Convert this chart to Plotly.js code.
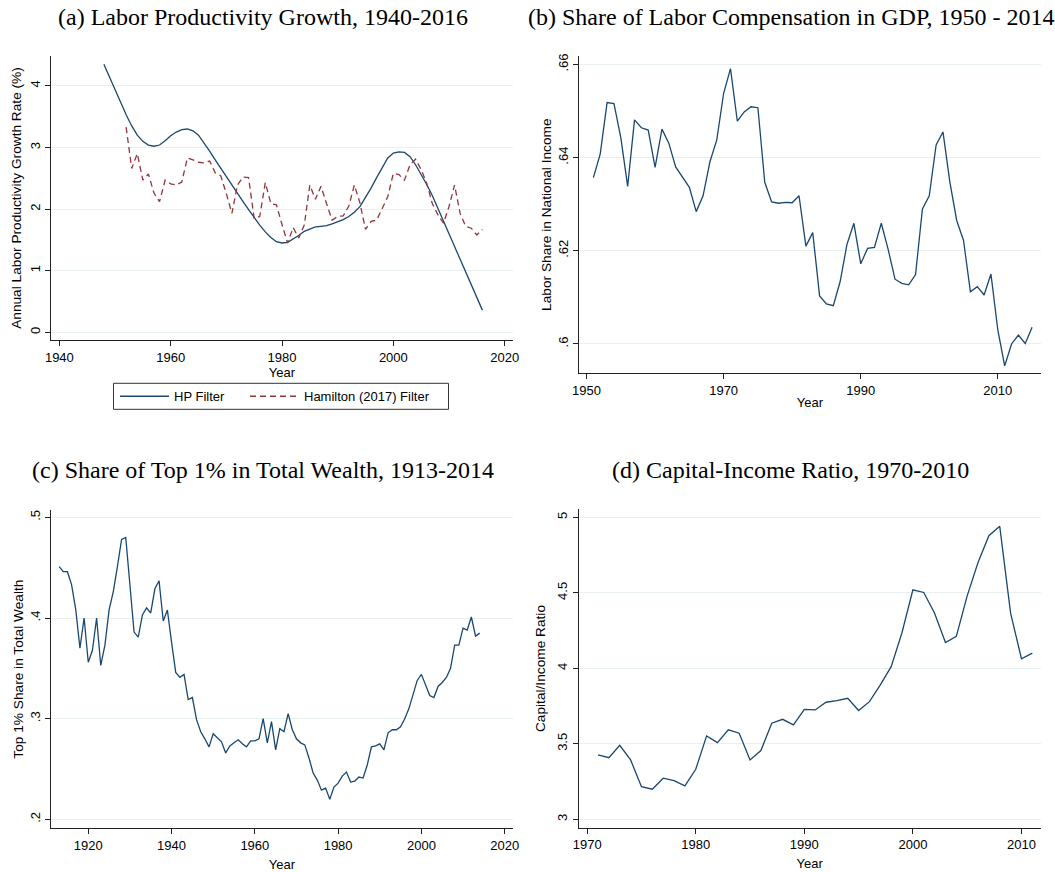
<!DOCTYPE html>
<html>
<head>
<meta charset="utf-8">
<script src="https://cdn.plot.ly/plotly-3.0.1.min.js"></script>
<style>html,body{margin:0;padding:0;background:#fff;}#chart{width:1055px;height:872px;}</style>
</head>
<body>
<div id="chart"></div>
<script>
// ---------- data ----------
function yearsFrom(start, n) { var a = []; for (var i = 0; i < n; i++) a.push(start + i); return a; }

// (a) Labor productivity growth
var hpYears = yearsFrom(1948, 69); // 1948-2016
var hpValues = [4.35, 4.14, 3.94, 3.73, 3.53, 3.35, 3.20, 3.10, 3.04, 3.02,
  3.04, 3.11, 3.19, 3.25, 3.29, 3.30, 3.27, 3.20, 3.08, 2.94,
  2.80, 2.66, 2.53, 2.39, 2.26, 2.12, 1.99, 1.86, 1.74, 1.63,
  1.54, 1.47, 1.45, 1.46, 1.51, 1.57, 1.64, 1.68, 1.71, 1.72,
  1.73, 1.76, 1.79, 1.83, 1.88, 1.95, 2.04, 2.18, 2.34, 2.51,
  2.68, 2.83, 2.91, 2.93, 2.92, 2.85, 2.72, 2.57, 2.40, 2.22,
  2.01, 1.80, 1.60, 1.40, 1.19, 0.98, 0.77, 0.56, 0.36];
var hamYears = yearsFrom(1952, 65); // 1952-2016
var hamValues = [3.33, 2.66, 2.90, 2.47, 2.57, 2.26, 2.12, 2.47, 2.41, 2.39,
  2.44, 2.83, 2.80, 2.76, 2.75, 2.78, 2.59, 2.54, 2.25, 1.93,
  2.39, 2.52, 2.51, 1.85, 1.88, 2.43, 2.09, 2.07, 1.75, 1.45,
  1.70, 1.53, 1.74, 2.39, 2.16, 2.37, 2.09, 1.82, 1.88, 1.89,
  2.05, 2.39, 2.10, 1.67, 1.80, 1.82, 2.01, 2.20, 2.58, 2.56,
  2.47, 2.72, 2.81, 2.64, 2.42, 2.09, 1.91, 1.77, 2.04, 2.39,
  1.93, 1.72, 1.69, 1.58, 1.67];

// (b) Labor share in national income
var laborYears = yearsFrom(1951, 65); // 1951-2015
var laborShare = [0.6357, 0.6408, 0.6518, 0.6516, 0.6443, 0.6338, 0.6481, 0.6464, 0.6459, 0.6379,
  0.6461, 0.6431, 0.6380, 0.6358, 0.6336, 0.6284, 0.6318, 0.6391, 0.6438, 0.6538,
  0.6591, 0.6478, 0.6498, 0.6509, 0.6507, 0.6347, 0.6305, 0.6302, 0.6304, 0.6303,
  0.6318, 0.6210, 0.6239, 0.6103, 0.6086, 0.6082, 0.6134, 0.6214, 0.6259, 0.6172,
  0.6205, 0.6207, 0.6259, 0.6203, 0.6139, 0.6130, 0.6127, 0.6149, 0.6290, 0.6318,
  0.6427, 0.6455, 0.6348, 0.6265, 0.6222, 0.6112, 0.6123, 0.6105, 0.6150, 0.6030,
  0.5953, 0.6000, 0.6019, 0.6001, 0.6036];

// (c) Top 1% share in total wealth
var wealthYears = yearsFrom(1913, 102); // 1913-2014
var top1Share = [0.451, 0.446, 0.446, 0.433, 0.408, 0.370, 0.400, 0.356, 0.368, 0.400,
  0.353, 0.373, 0.408, 0.426, 0.451, 0.478, 0.480, 0.434, 0.386, 0.381,
  0.403, 0.410, 0.405, 0.429, 0.437, 0.397, 0.408, 0.376, 0.346, 0.341,
  0.344, 0.319, 0.321, 0.299, 0.287, 0.280, 0.272, 0.285, 0.281, 0.277,
  0.266, 0.273, 0.276, 0.279, 0.275, 0.272, 0.278, 0.278, 0.280, 0.300,
  0.276, 0.297, 0.269, 0.290, 0.287, 0.305, 0.289, 0.280, 0.276, 0.274,
  0.261, 0.246, 0.239, 0.229, 0.231, 0.220, 0.232, 0.236, 0.243, 0.247,
  0.237, 0.238, 0.242, 0.241, 0.254, 0.272, 0.273, 0.275, 0.269, 0.286,
  0.289, 0.289, 0.292, 0.300, 0.310, 0.325, 0.338, 0.344, 0.333, 0.323,
  0.321, 0.332, 0.336, 0.341, 0.350, 0.373, 0.373, 0.390, 0.388, 0.401,
  0.382, 0.385];

// (d) Capital-income ratio
var capYears = yearsFrom(1971, 41); // 1971-2011
var capRatio = [3.426, 3.408, 3.490, 3.393, 3.216, 3.199, 3.272, 3.256, 3.221, 3.331,
  3.552, 3.508, 3.592, 3.570, 3.393, 3.455, 3.636, 3.662, 3.625, 3.728,
  3.724, 3.775, 3.786, 3.801, 3.720, 3.779, 3.890, 4.011, 4.237, 4.520,
  4.502, 4.365, 4.171, 4.211, 4.480, 4.701, 4.878, 4.940, 4.365, 4.063,
  4.100];

// tick labels
var tickA = [0, 1, 2, 3, 4], tickAText = ['0', '1', '2', '3', '4'];
var tickB = [0.60, 0.62, 0.64, 0.66], tickBText = ['.6', '.62', '.64', '.66'];
var tickC = [0.2, 0.3, 0.4, 0.5], tickCText = ['.2', '.3', '.4', '.5'];
var tickD = [3, 3.5, 4, 4.5, 5], tickDText = ['3', '3.5', '4', '4.5', '5'];

var panelTitles = ['(a) Labor Productivity Growth, 1940-2016',
  '(b) Share of Labor Compensation in GDP, 1950 - 2014',
  '(c) Share of Top 1% in Total Wealth, 1913-2014',
  '(d) Capital-Income Ratio, 1970-2010'];

// ---------- styling ----------
var W = 1055, H = 872;
var BLUE = '#1a476f', RED = '#90353b', GRID = '#e8eff1', AXIS = '#222';
var SANS = 'Liberation Sans, Arial, sans-serif';
var SERIF = 'Liberation Serif, Times New Roman, serif';
function px(x0, x1) { return [x0 / W, x1 / W]; }
function py(top, bottom) { return [1 - bottom / H, 1 - top / H]; }

function xax(dom, range, vals, anchor, standoff) {
  return {
    domain: dom, range: range, tickvals: vals, anchor: anchor,
    showline: true, linecolor: AXIS, linewidth: 1, ticks: 'outside', ticklen: 5, tickcolor: AXIS,
    showgrid: false, zeroline: false, tickfont: {family: SANS, size: 13, color: '#000'},
    title: {text: 'Year', font: {family: SANS, size: 13, color: '#000'}, standoff: standoff}
  };
}
function yax(dom, range, vals, text, anchor, title, standoff) {
  return {
    domain: dom, range: range, tickvals: vals, ticktext: text, anchor: anchor,
    showline: true, linecolor: AXIS, linewidth: 1, ticks: 'outside', ticklen: 5, tickcolor: AXIS,
    showgrid: true, gridcolor: GRID, gridwidth: 1, zeroline: false, tickangle: -90,
    tickfont: {family: SANS, size: 13, color: '#000'},
    title: {text: title, font: {family: SANS, size: 13.7, color: '#000'}, standoff: standoff}
  };
}

var traces = [
  {x: hpYears, y: hpValues, type: 'scatter', mode: 'lines', name: 'HP Filter',
   line: {color: BLUE, width: 1.3}, xaxis: 'x', yaxis: 'y', showlegend: true, legend: 'legend'},
  {x: hamYears, y: hamValues, type: 'scatter', mode: 'lines', name: 'Hamilton (2017) Filter',
   line: {color: RED, width: 1.3, dash: '6px,4px'}, xaxis: 'x', yaxis: 'y', showlegend: true, legend: 'legend2'},
  {x: laborYears, y: laborShare, type: 'scatter', mode: 'lines', name: 'Labor share',
   line: {color: BLUE, width: 1.3}, xaxis: 'x2', yaxis: 'y2', showlegend: false},
  {x: wealthYears, y: top1Share, type: 'scatter', mode: 'lines', name: 'Top 1% share',
   line: {color: BLUE, width: 1.3}, xaxis: 'x3', yaxis: 'y3', showlegend: false},
  {x: capYears, y: capRatio, type: 'scatter', mode: 'lines', name: 'Capital/Income',
   line: {color: BLUE, width: 1.3}, xaxis: 'x4', yaxis: 'y4', showlegend: false}
];

function titleAnn(text, xc, yc) {
  return {text: text, xref: 'paper', yref: 'paper', x: xc / W, y: 1 - yc / H,
    xanchor: 'center', yanchor: 'middle', showarrow: false,
    font: {family: SERIF, size: 24, color: '#000'}};
}
function legendAt(xLeft) {
  return {orientation: 'h', x: xLeft / W, y: 1 - 396.3 / H, xanchor: 'left', yanchor: 'middle',
    borderwidth: 0, bgcolor: 'rgba(0,0,0,0)', itemwidth: 49,
    font: {family: SANS, size: 13, color: '#000'}};
}

var layout = {
  width: W, height: H, margin: {l: 0, r: 0, t: 0, b: 0},
  paper_bgcolor: '#fff', plot_bgcolor: '#fff',
  xaxis: xax(px(51, 513), [1938.5, 2021.5], [1940, 1960, 1980, 2000, 2020], 'y', 0),
  yaxis: yax(py(56, 340), [-0.125, 4.485], tickA, tickAText, 'x',
             'Annual Labor Productivity Growth Rate (%)', 3),
  xaxis2: xax(px(579, 1041), [1948.9, 2016.3], [1950, 1970, 1990, 2010], 'y2', 0),
  yaxis2: yax(py(56, 373.3), [0.5937, 0.6618], tickB, tickBText, 'x2',
              'Labor Share in National Income', 0),
  xaxis3: xax(px(51, 513), [1911.05, 2022], [1920, 1940, 1960, 1980, 2000, 2020], 'y3', 7),
  yaxis3: yax(py(510, 828.3), [0.1911, 0.5073], tickC, tickCText, 'x3',
              'Top 1% Share in Total Wealth', 0),
  xaxis4: xax(px(578.5, 1041), [1969.2, 2011.8], [1970, 1980, 1990, 2000, 2010], 'y4', 7),
  yaxis4: yax(py(509.3, 827.7), [2.944, 5.053], tickD, tickDText, 'x4',
              'Capital/Income Ratio', 6.5),
  showlegend: true,
  legend: legendAt(115),
  legend2: legendAt(245),
  shapes: [{type: 'rect', xref: 'paper', yref: 'paper',
    x0: 113.5 / W, x1: 448.5 / W, y0: 1 - 409.3 / H, y1: 1 - 383.3 / H,
    line: {color: '#333', width: 1}, fillcolor: 'rgba(0,0,0,0)'}],
  annotations: [
    titleAnn(panelTitles[0], 262.5, 17),
    titleAnn(panelTitles[1], 791, 17),
    titleAnn(panelTitles[2], 262.5, 470),
    titleAnn(panelTitles[3], 790, 470)
  ]
};

Plotly.newPlot('chart', traces, layout, {displayModeBar: false, staticPlot: true});
</script>
</body>
</html>
